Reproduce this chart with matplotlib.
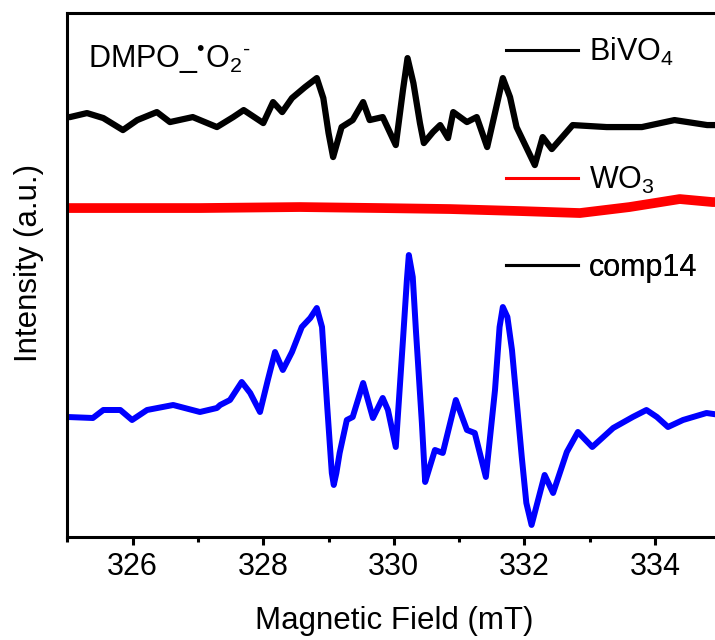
import matplotlib
matplotlib.use("Agg")
import matplotlib.pyplot as plt
from matplotlib.lines import Line2D
from matplotlib.ticker import MultipleLocator

plt.rcParams['font.family'] = ['Liberation Sans', 'DejaVu Sans']
plt.rcParams['mathtext.fontset'] = 'custom'
plt.rcParams['mathtext.rm'] = 'Liberation Sans'
plt.rcParams['mathtext.it'] = 'Liberation Sans:italic'
plt.rcParams['mathtext.bf'] = 'Liberation Sans:bold'

# field (mT) and stacked intensity (a.u., offsets included)
campo_bivo4 = [325.00, 325.04, 325.30, 325.55, 325.85, 326.07, 326.37, 326.57, 326.92, 327.29,
               327.34, 327.54, 327.70, 328.00, 328.15, 328.29, 328.44, 328.64, 328.82, 328.92,
               329.00, 329.07, 329.20, 329.37, 329.53, 329.63, 329.83, 330.03, 330.14, 330.21,
               330.30, 330.40, 330.46, 330.60, 330.71, 330.83, 330.91, 331.12, 331.27, 331.43,
               331.57, 331.67, 331.78, 331.88, 332.16, 332.28, 332.42, 332.74, 333.26, 333.80,
               334.30, 334.80, 335.00]
int_bivo4 = [420, 420, 424, 419, 407, 417, 425, 415, 420, 410,
             412, 420, 427, 414, 435, 425, 439, 450, 459, 439,
             404, 380, 410, 417, 435, 417, 420, 392, 447, 479,
             454, 414, 394, 405, 412, 399, 425, 415, 420, 390,
             430, 459, 440, 410, 372, 400, 388, 412, 410, 410,
             417, 412, 412]

campo_wo3 = [325.00, 327.03, 328.56, 329.79, 330.86, 331.93, 332.85, 333.61, 334.38, 334.88, 335.00]
int_wo3 = [329, 329, 330, 329, 328, 326, 324, 330, 338, 335, 335]

campo_comp14 = [325.00, 325.39, 325.55, 325.81, 325.99, 326.22, 326.62, 327.03, 327.29, 327.34,
                327.49, 327.67, 327.80, 327.95, 328.07, 328.18, 328.30, 328.44, 328.59, 328.72,
                328.82, 328.90, 328.98, 329.05, 329.08, 329.12, 329.17, 329.28, 329.37, 329.53,
                329.68, 329.83, 329.91, 330.03, 330.14, 330.20, 330.23, 330.29, 330.34, 330.43,
                330.48, 330.55, 330.63, 330.75, 330.95, 331.12, 331.24, 331.41, 331.55, 331.62,
                331.67, 331.74, 331.81, 331.96, 332.03, 332.11, 332.21, 332.31, 332.44, 332.65,
                332.82, 333.04, 333.36, 333.66, 333.87, 334.03, 334.20, 334.43, 334.79, 335.00]
int_comp14 = [120, 119, 127, 127, 117, 127, 132, 125, 129, 132,
              137, 155, 144, 125, 157, 185, 167, 185, 210, 219,
              229, 210, 130, 64, 52, 64, 84, 117, 120, 154,
              119, 139, 127, 90, 197, 257, 282, 260, 205, 114,
              55, 70, 87, 84, 137, 107, 104, 60, 147, 210,
              230, 220, 187, 80, 34, 12, 37, 62, 44, 85,
              105, 90, 109, 120, 127, 120, 110, 117, 124, 122]

ticks_x = [326, 328, 330, 332, 334]

fig = plt.figure(figsize=(7.15, 6.4), dpi=100)
ax = fig.add_axes([0.0943, 0.161, 0.913, 0.819])

ax.plot(campo_bivo4, int_bivo4, color='black', lw=4.5, solid_joinstyle='round')
ax.plot(campo_wo3, int_wo3, color='#ff0000', lw=7, solid_joinstyle='round')
ax.plot(campo_comp14, int_comp14, color='#0000ff', lw=4.3, solid_joinstyle='round')

ax.set_xlim(325, 335)
ax.set_ylim(0, 524.3)
ax.set_xticks(ticks_x)
ax.set_xticklabels([str(t) for t in ticks_x])
ax.xaxis.set_minor_locator(MultipleLocator(1))
ax.set_yticks([])

for lado in ['left', 'bottom', 'top', 'right']:
    ax.spines[lado].set_linewidth(2.2)
ax.tick_params(axis='x', which='major', length=6, width=2.2, labelsize=22, pad=5, direction='out')
ax.tick_params(axis='x', which='minor', length=3.5, width=2.2, direction='out')

ax.set_xlabel('Magnetic Field (mT)', fontsize=22.5, labelpad=17)
ax.set_ylabel('Intensity (a.u.)', fontsize=22.5)
ax.yaxis.set_label_coords(-0.036, 0.523)

ax.text(0.031, 0.895, 'DMPO_$^{\u2022}$O$_2$$^{\u2010}$', transform=ax.transAxes,
        fontsize=22, ha='left', va='baseline')

# one legend per trace, placed next to each spectrum as in the original
rotulos = [('BiVO$_4$', 'black', 0.925), ('WO$_3$', '#ff0000', 0.681), ('comp14', 'black', 0.513)]
for texto, cor, ypos in rotulos:
    leg = ax.legend(handles=[Line2D([], [], color=cor, lw=2.2)], labels=[texto],
                    loc='center left', bbox_to_anchor=(0.672, ypos), frameon=False,
                    fontsize=22, handlelength=2.35, handletextpad=0.35,
                    borderpad=0, borderaxespad=0)
    ax.add_artist(leg)

fig.savefig('out.png', dpi=100)
